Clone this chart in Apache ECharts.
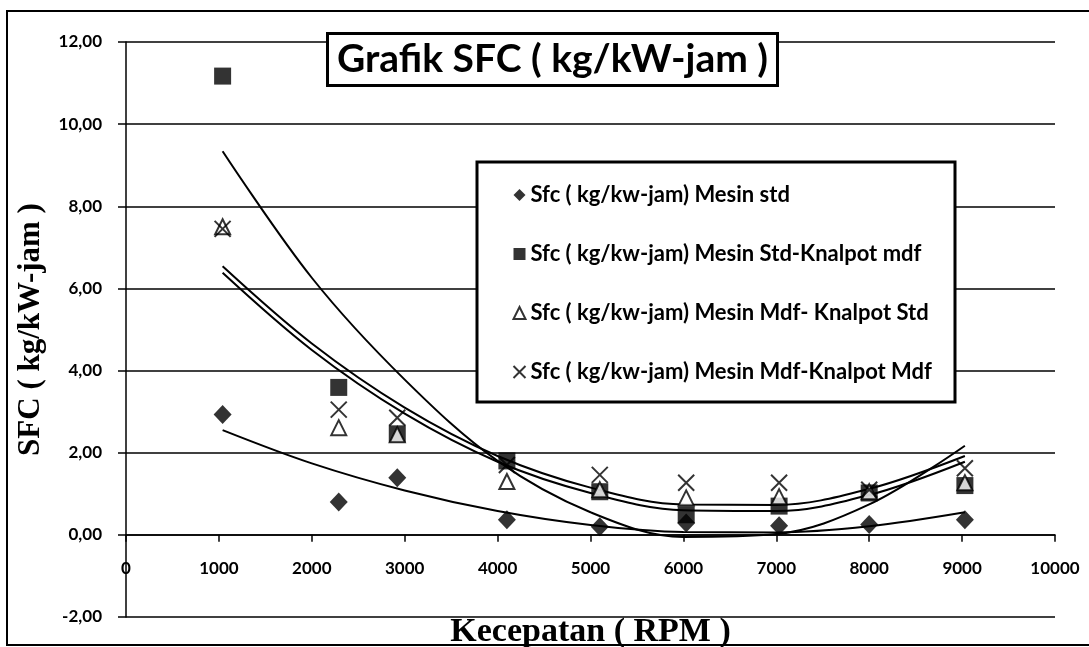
<!DOCTYPE html>
<html>
<head>
<meta charset="utf-8">
<script src="https://cdn.jsdelivr.net/npm/echarts@6/dist/echarts.min.js"></script>
<style>
  html, body { margin: 0; padding: 0; background: #fff; }
  #chart { width: 1089px; height: 647px; }
</style>
</head>
<body>
<div id="chart"></div>
<script>
// measured rpm of each test point
const rpm = [1040, 2290, 2920, 4100, 5100, 6030, 7030, 8000, 9030]
const sfcStd = [2.93, 0.80, 1.39, 0.37, 0.20, 0.29, 0.22, 0.25, 0.37]
const sfcStdKnalpotMdf = [11.17, 3.59, 2.46, 1.80, 1.05, 0.49, 0.70, 1.02, 1.20]
const sfcMdfKnalpotStd = [7.50, 2.61, 2.44, 1.30, 1.10, 0.90, 0.93, 1.05, 1.27]
const sfcMdfKnalpotMdf = [7.45, 3.05, 2.85, 1.70, 1.46, 1.27, 1.27, 1.10, 1.62]

// trendlines (poly 2)
const trendRpm = [1040, 2000, 3000, 4000, 5000, 6000, 7000, 8000, 9030]
const trendStd = [2.55, 1.74, 1.08, 0.58, 0.24, 0.07, 0.06, 0.21, 0.55]
const trendStdKnalpotMdf = [9.34, 6.26, 3.78, 1.80, 0.55, -0.05, 0.02, 0.74, 2.17]
const trendMdfKnalpotStd = [6.38, 4.50, 2.95, 1.78, 1.02, 0.60, 0.58, 0.97, 1.78]
const trendMdfKnalpotMdf = [6.54, 4.66, 3.10, 1.92, 1.15, 0.74, 0.73, 1.12, 1.92]

const xTicks = [0, 1000, 2000, 3000, 4000, 5000, 6000, 7000, 8000, 9000, 10000]
const yTicks = [-2, 0, 2, 4, 6, 8, 10, 12]

const names = [
  'Sfc ( kg/kw-jam) Mesin std',
  'Sfc ( kg/kw-jam) Mesin Std-Knalpot mdf',
  'Sfc ( kg/kw-jam) Mesin Mdf- Knalpot Std',
  'Sfc ( kg/kw-jam) Mesin Mdf-Knalpot Mdf'
]

const pairs = (xs, ys) => xs.map((x, i) => [x, ys[i]])

const gridTop = 42, gridBottom = 30, chartH = 647
// x axis sits on the 0 line: shift it up from the grid bottom by two y units
const plotH = chartH - gridTop - gridBottom
const xAxisOffset = -plotH * (0 - yTicks[0]) / (yTicks[yTicks.length - 1] - yTicks[0])

let myChart = echarts.init(document.getElementById('chart'))

function trend(ys) {
  return {
    type: 'line',
    data: pairs(trendRpm, ys),
    smooth: 0.35,
    showSymbol: false,
    silent: true,
    z: 3,
    lineStyle: { color: '#000', width: 2 }
  }
}

let option = {
  animation: false,
  backgroundColor: '#fff',
  title: {
    text: 'Grafik SFC ( kg/kW-jam )',
    left: 327,
    top: 33,
    padding: [7, 10, 7, 10],
    borderColor: '#000',
    borderWidth: 3,
    backgroundColor: '#fff',
    textStyle: { fontFamily: 'Lato', fontWeight: 'bold', fontSize: 39, color: '#000' }
  },
  legend: {
    orient: 'vertical',
    left: 511,
    top: 183,
    padding: 0,
    itemWidth: 12,
    itemHeight: 12,
    itemGap: 35,
    z: 8,
    data: names,
    textStyle: { fontFamily: 'Lato', fontWeight: 'bold', fontSize: 22, color: '#000', lineHeight: 24 }
  },
  graphic: [
    {
      type: 'rect',
      z: 7,
      shape: { x: 477, y: 162, width: 478, height: 240 },
      style: { fill: '#fff', stroke: '#000', lineWidth: 3 }
    },
    {
      type: 'rect',
      z: 1,
      silent: true,
      shape: { x: 7, y: 11, width: 1100, height: 634 },
      style: { fill: 'none', stroke: '#000', lineWidth: 2 }
    }
  ],
  grid: { left: 126, right: 34, top: gridTop, bottom: gridBottom, outerBoundsMode: 'none', containLabel: false },
  xAxis: {
    type: 'value',
    min: xTicks[0],
    max: xTicks[xTicks.length - 1],
    interval: 1000,
    offset: xAxisOffset,
    name: 'Kecepatan ( RPM )',
    nameLocation: 'middle',
    nameGap: 80,
    nameTextStyle: { fontFamily: 'Liberation Serif', fontWeight: 'bold', fontSize: 34, color: '#000' },
    axisLine: { onZero: false, lineStyle: { color: '#000', width: 1.5 } },
    axisTick: { show: true, length: 7, lineStyle: { color: '#000', width: 1.5 } },
    splitLine: { show: false },
    axisLabel: {
      margin: 25, fontFamily: 'Lato', fontWeight: 'bold', fontSize: 17, color: '#000',
      formatter: v => String(v)
    }
  },
  yAxis: {
    type: 'value',
    min: yTicks[0],
    max: yTicks[yTicks.length - 1],
    interval: 2,
    name: 'SFC ( kg/kW-jam )',
    nameLocation: 'middle',
    nameGap: 80,
    nameTextStyle: { fontFamily: 'Liberation Serif', fontWeight: 'bold', fontSize: 31, color: '#000' },
    axisLine: { show: true, onZero: false, lineStyle: { color: '#000', width: 1.5 } },
    axisTick: { show: true, length: 8, lineStyle: { color: '#000', width: 1.5 } },
    splitLine: { show: true, lineStyle: { color: '#000', width: 1.5 } },
    axisLabel: {
      margin: 24,
      fontFamily: 'Lato', fontWeight: 'bold', fontSize: 17, color: '#000',
      formatter: v => v.toFixed(2).replace('.', ',')
    }
  },
  series: [
    trend(trendStd),
    trend(trendStdKnalpotMdf),
    trend(trendMdfKnalpotStd),
    trend(trendMdfKnalpotMdf),
    {
      name: names[0], type: 'scatter', z: 4,
      symbol: 'diamond', symbolSize: [18, 19],
      itemStyle: { color: '#000' },
      data: pairs(rpm, sfcStd)
    },
    {
      name: names[1], type: 'scatter', z: 4,
      symbol: 'rect', symbolSize: 17,
      itemStyle: { color: '#000' },
      data: pairs(rpm, sfcStdKnalpotMdf)
    },
    {
      name: names[2], type: 'scatter', z: 5,
      symbol: 'triangle', symbolSize: 15,
      itemStyle: { color: '#fff', borderColor: '#000', borderWidth: 2 },
      data: pairs(rpm, sfcMdfKnalpotStd)
    },
    {
      name: names[3], type: 'scatter', z: 6,
      symbol: 'path://M0,0L10,10M10,0L0,10', symbolSize: 16,
      itemStyle: { color: 'none', borderColor: '#000', borderWidth: 2 },
      data: pairs(rpm, sfcMdfKnalpotMdf)
    }
  ]
}

myChart.setOption(option)
</script>
</body>
</html>
